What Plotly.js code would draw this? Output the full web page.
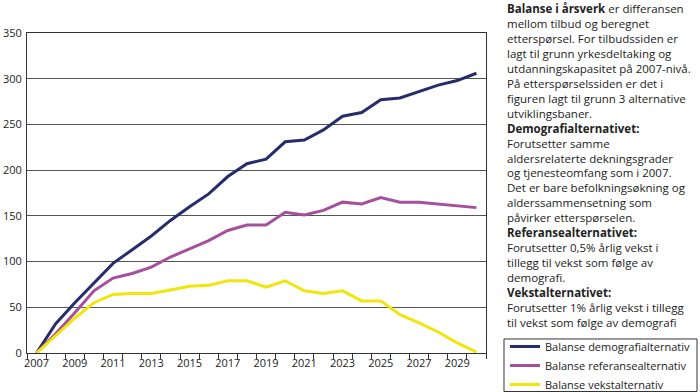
<!DOCTYPE html>
<html>
<head>
<meta charset="utf-8">
<script src="https://cdn.plot.ly/plotly-3.0.1.min.js"></script>
<style>html,body{margin:0;padding:0;background:#fff;}#chart{width:700px;height:392px;}</style>
</head>
<body>
<div id="chart"></div>
<script>
const years = [2007,2008,2009,2010,2011,2012,2013,2014,2015,2016,2017,2018,2019,2020,2021,2022,2023,2024,2025,2026,2027,2028,2029,2030];
const demografi = [0,32,55,76,98,113,128,145,160,174,193,207,212,231,233,244,259,263,277,279,286,293,298,306];
const referanse = [0,21,44,68,82,87,94,105,114,123,134,140,140,154,151,156,165,163,170,165,165,163,161,159];
const vekst = [0,19,38,55,64,65,65,69,73,74,79,79,72,79,68,65,68,57,57,42,33,23,11,1];
const seriesNames = ["Balanse demografialternativ","Balanse referansealternativ","Balanse vekstalternativ"];
const yTicks = [0,50,100,150,200,250,300,350];
const noteText = "<b>Balanse i årsverk</b> er differansen<br>mellom tilbud og beregnet<br>etterspørsel. For tilbudssiden er<br>lagt til grunn yrkesdeltaking og<br>utdanningskapasitet på 2007-nivå.<br>På etterspørselssiden er det i<br>figuren lagt til grunn 3 alternative<br>utviklingsbaner.<br><b>Demografialternativet:</b><br>Forutsetter samme<br>aldersrelaterte dekningsgrader<br>og tjenesteomfang som i 2007.<br>Det er bare befolkningsøkning og<br>alderssammensetning som<br>påvirker etterspørselen.<br><b>Referansealternativet:</b><br>Forutsetter 0,5% årlig vekst i<br>tillegg til vekst som følge av<br>demografi.<br><b>Vekstalternativet:</b><br>Forutsetter 1% årlig vekst i tillegg<br>til vekst som følge av demografi";

const FONT = "'Open Sans', Lato, sans-serif";
const colors = ["#262d6a","#a4509d","#f0e50c"];
const data = [demografi, referanse, vekst].map((vals, i) => ({
  x: years, y: vals, type: "scatter", mode: "lines",
  name: seriesNames[i],
  line: {color: colors[i], width: 3}
}));

const layout = {
  width: 700, height: 392,
  margin: {l: 27, r: 214, t: 33, b: 39, autoexpand: false},
  paper_bgcolor: "#fff", plot_bgcolor: "#fff",
  font: {family: FONT, size: 11, color: "#222"},
  showlegend: true,
  legend: {
    x: 1.0414, xanchor: "left", y: 0.0656, yanchor: "top",
    borderwidth: 0, bgcolor: "rgba(0,0,0,0)",
    font: {family: FONT, size: 11, color: "#222"},
    itemwidth: 30, tracegroupgap: 0
  },
  shapes: [{
    type: "rect", xref: "paper", yref: "paper",
    x0: 1.0392, x1: 1.4597, y0: -0.1203, y1: 0.0438,
    line: {color: "#333", width: 1}, fillcolor: "rgba(0,0,0,0)", layer: "below"
  }],
  xaxis: {
    range: [years[0] - 0.5, years[years.length - 1] + 0.5],
    tickmode: "array",
    tickvals: years.filter((y, i) => i % 2 === 0),
    ticktext: years.filter((y, i) => i % 2 === 0).map(String),
    ticks: "", showgrid: false, zeroline: false,
    showline: true, linecolor: "#333", linewidth: 1, mirror: true,
    tickfont: {family: FONT, size: 11, color: "#222"},
    minor: {tickmode: "array", tickvals: years.map(y => y - 0.5).concat([years[years.length - 1] + 0.5]),
            ticks: "outside", ticklen: 5, tickcolor: "#333", tickwidth: 1, showgrid: false},
    fixedrange: true
  },
  yaxis: {
    range: [0, 350],
    tickmode: "array", tickvals: yTicks,
    ticks: "", showgrid: true, gridcolor: "#555", gridwidth: 1,
    zeroline: false, showline: true, linecolor: "#333", linewidth: 1, mirror: true,
    tickfont: {family: FONT, size: 11, color: "#222"},
    ticklabelstandoff: 2,
    fixedrange: true
  },
  annotations: [{
    xref: "paper", yref: "paper",
    x: 1.0414, y: 1.105, xanchor: "left", yanchor: "top",
    align: "left", showarrow: false,
    text: noteText,
    font: {family: FONT, size: 11.5, color: "#222"}
  }]
};

Plotly.newPlot("chart", data, layout, {displayModeBar: false, staticPlot: true});
</script>
</body>
</html>
